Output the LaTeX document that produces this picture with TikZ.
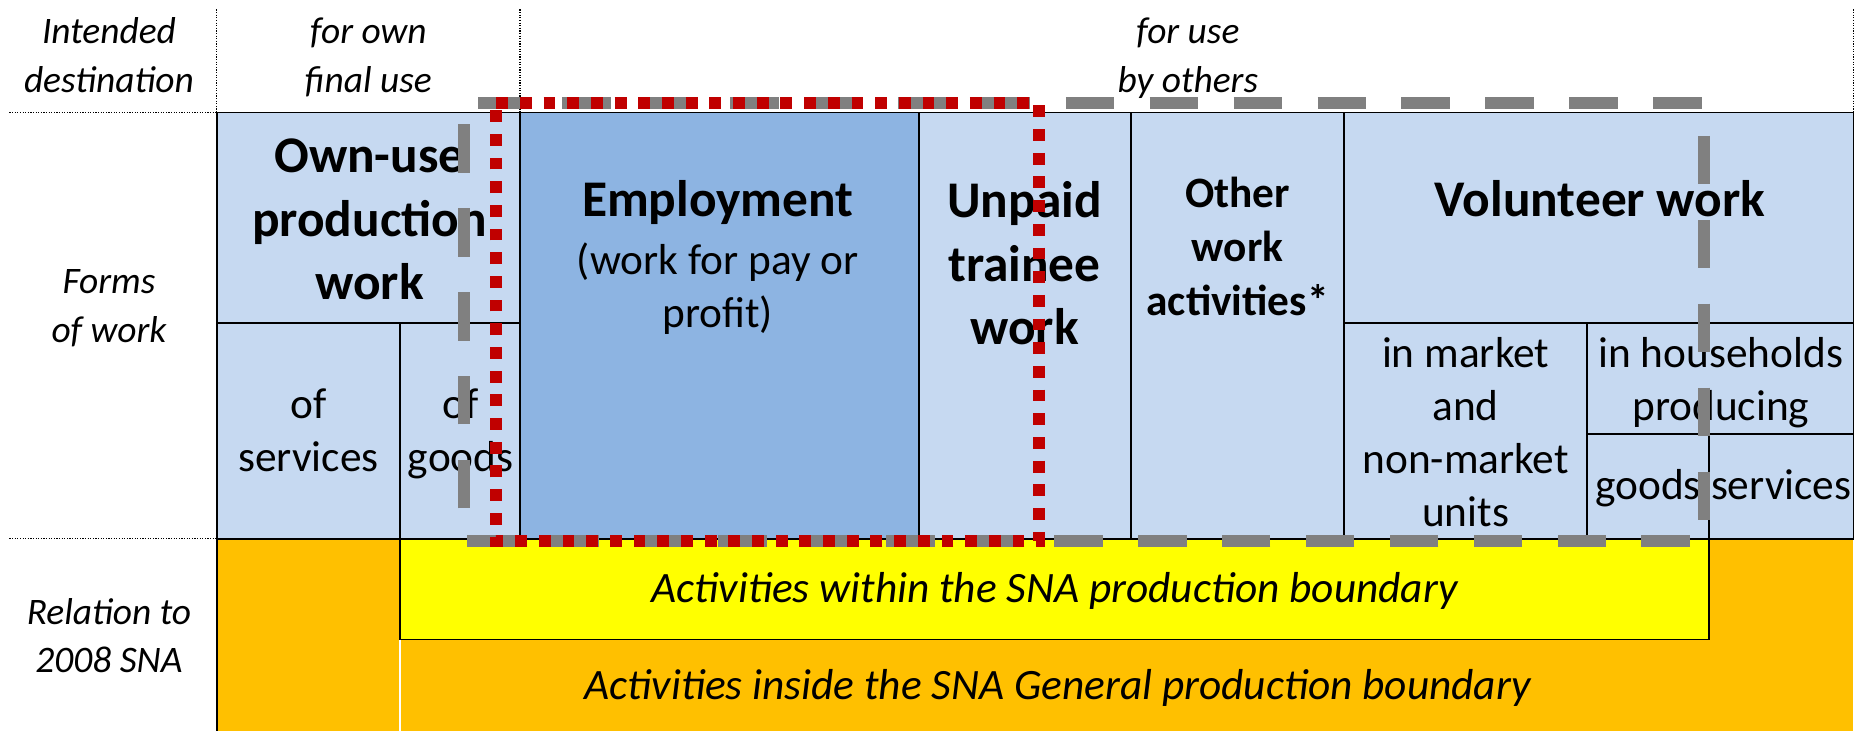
\documentclass[tikz,border=0pt]{standalone}
\usepackage{fontspec}
\setmainfont{Carlito}
\definecolor{lightblue}{HTML}{C6D9F1}
\definecolor{empblue}{HTML}{8DB4E2}
\definecolor{snaorange}{HTML}{FFC000}
\definecolor{snayellow}{HTML}{FFFF00}
\definecolor{boundred}{HTML}{C00000}
\definecolor{boundgrey}{HTML}{808080}
\begin{document}
\begin{tikzpicture}[x=0.5pt,y=-0.5pt,
  cell/.style={draw=black,line width=0.8pt},
  dotline/.style={draw=black,line width=0.5pt,dash pattern=on 0.5pt off 0.6pt},
  lab/.style={font=\fontsize{15.8}{20.4}\selectfont\itshape,align=center,inner sep=0pt},
  hdr/.style={font=\fontsize{21.7}{26.8}\selectfont\bfseries,align=center,inner sep=0pt},
  txt/.style={font=\fontsize{18.3}{22.5}\selectfont,align=center,inner sep=0pt},
  itx/.style={font=\fontsize{18.3}{22.5}\selectfont\itshape,align=center,inner sep=0pt},
  oth/.style={font=\fontsize{18.3}{22.8}\selectfont\bfseries,align=center,inner sep=0pt},
  greybound/.style={draw=boundgrey,line width=5pt,dash pattern=on 20.5pt off 14.925pt,dash phase=29.425pt},
  redbound/.style={draw=boundred,line width=5pt,dash pattern=on 5pt off 5pt}
]
\useasboundingbox (0,0) rectangle (1568,617);

% bottom band
\fill[snaorange] (183,455) rectangle (1565,617);
\filldraw[fill=snayellow,draw=black,line width=0.8pt] (338,455) rectangle (1443,540);
\draw[white,line width=0.8pt] (338,540) -- (338,617);
\draw[cell] (183,455) -- (183,617);

% forms of work cells
\fill[lightblue] (183,95) rectangle (1565,455);
\fill[empblue] (439,95) rectangle (776,455);
\draw[cell] (183,95) rectangle (1565,455);
\draw[cell] (439,95) -- (439,455);
\draw[cell] (776,95) -- (776,455);
\draw[cell] (955,95) -- (955,455);
\draw[cell] (1135,95) -- (1135,455);
\draw[cell] (183,273) -- (439,273);
\draw[cell] (338,273) -- (338,455);
\draw[cell] (1135,273) -- (1565,273);
\draw[cell] (1340,273) -- (1340,455);
\draw[cell] (1340,366.6) -- (1565,366.6);
\draw[cell] (1443,366.6) -- (1443,455);

% dotted guides
\draw[dotline] (183,8) -- (183,95);
\draw[dotline] (439,8) -- (439,95);
\draw[dotline] (1565,8) -- (1565,95);
\draw[dotline] (8,95) -- (183,95);
\draw[dotline] (8,455) -- (183,455);

% row / column labels
\node[lab,anchor=north] (intended) at (92,8.0) {\strut Intended\\destination};
\node[lab,anchor=north] (ownfinal) at (311,8.0) {\strut for own\\final use};
\node[lab,anchor=north] (others) at (1003,8.0) {\strut for use\\by others};
\node[lab,anchor=north] (forms) at (92,219.1) {\strut Forms\\of work};
\node[lab,anchor=north] (relation) at (92,498.4) {\strut Relation to\\2008 SNA};

% cell texts
\node[hdr,anchor=north] (ownuse) at (312,108) {\strut Own-use\\production\\work};
\node[hdr,anchor=base] (employment) at (606,182.5) {Employment};
\node[txt,anchor=north] (pay) at (606,200) {\strut (work for pay or\\profit)};
\node[hdr,anchor=north] (unpaid) at (865,146) {\strut Unpaid\\trainee\\work};
\node[oth,anchor=north] (other) at (1045,143) {\strut Other\\work\\activities*};
\node[hdr,anchor=base] (volunteer) at (1351,183) {Volunteer work};
\node[txt,anchor=north] (ofservices) at (260.5,321.5) {\strut of\\services};
\node[txt,anchor=north] (ofgoods) at (389,321.5) {\strut of\\goods};
\node[txt,anchor=north] (market) at (1237.5,278) {\strut in market\\and\\non-market\\units};
\node[txt,anchor=north] (households) at (1453,278) {\strut in households\\producing};
\node[txt,anchor=base] (hgoods) at (1391.5,422) {goods};
\node[txt,anchor=base] (hservices) at (1504,422) {services};
\node[itx,anchor=base] (within) at (890.5,509) {Activities within the SNA production boundary};
\node[itx,anchor=base] (inside) at (893,591) {Activities inside the SNA General production boundary};

% boundaries
\draw[greybound] (392,87) -- (1439,87) -- (1439,457) -- (392,457) -- cycle;
\draw[redbound] (419,87) -- (877,87) -- (877,457) -- (419,457) -- cycle;
\end{tikzpicture}
\end{document}
